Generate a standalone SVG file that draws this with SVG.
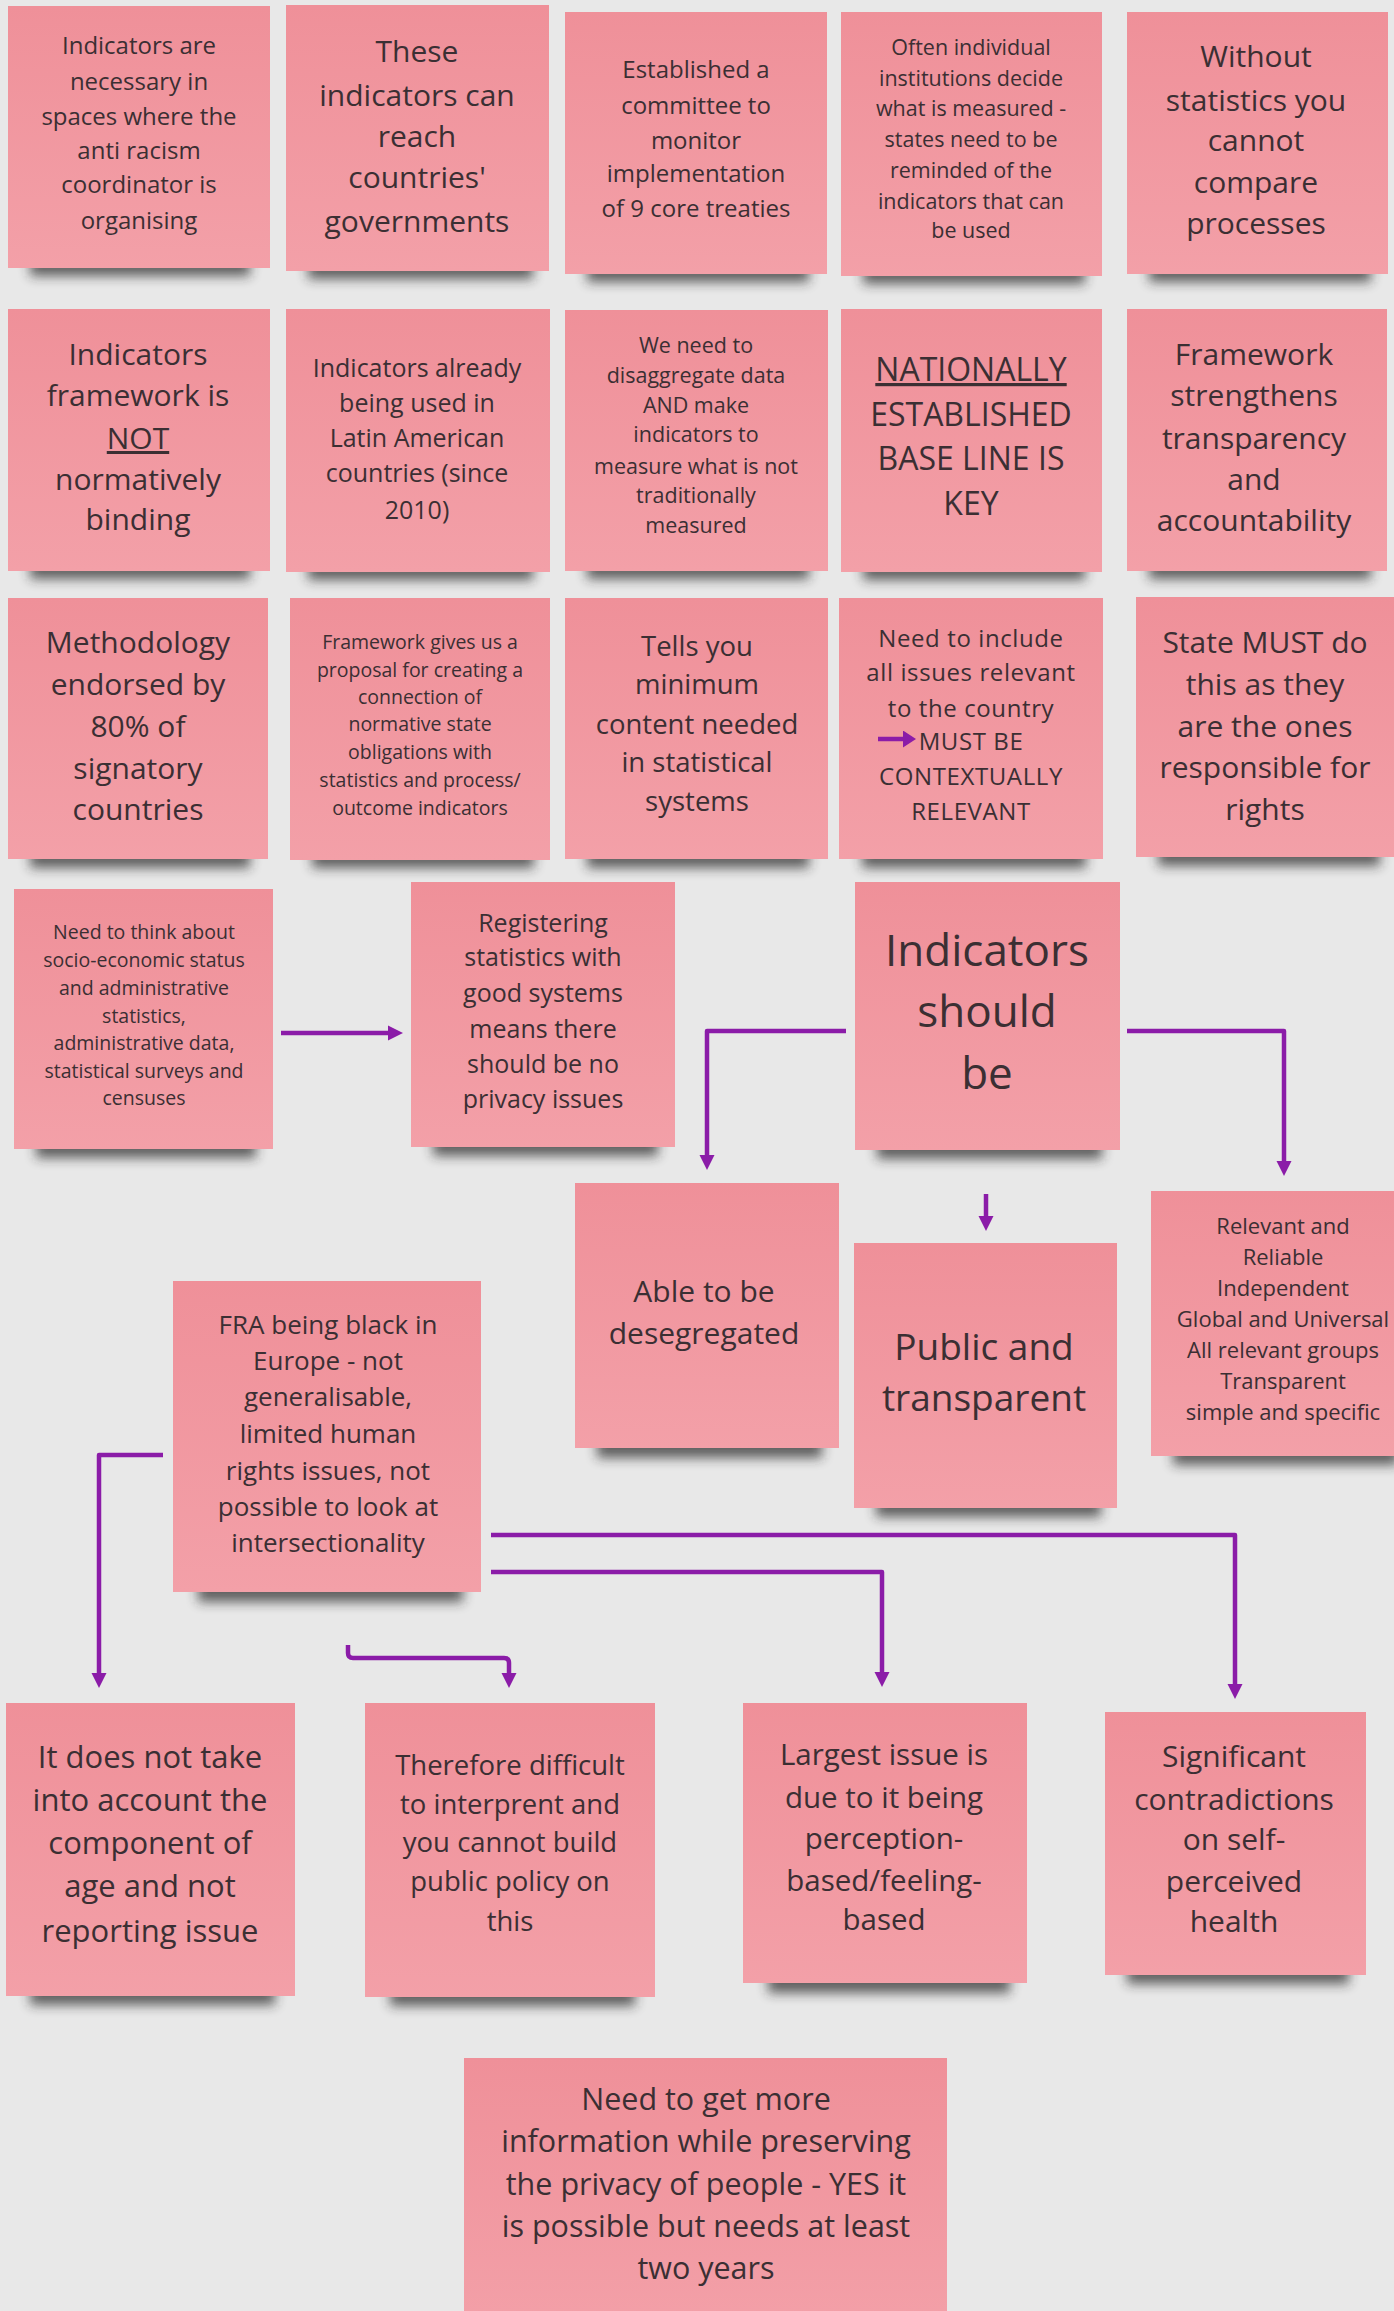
<svg xmlns="http://www.w3.org/2000/svg" width="1394" height="2311" viewBox="0 0 1394 2311">
<style>
.bg{fill:#e8e8e8}
.note{fill:url(#pink)}
.sh{fill:#262626;opacity:.7;filter:url(#blur)}
text{font-family:"Open Sans","Noto Sans","Liberation Sans",sans-serif;fill:#3b2f33;text-anchor:middle}
.conn{fill:none;stroke:#8b1ca8;stroke-width:4.5;stroke-linejoin:round}
.u{text-decoration:underline}
</style>
<defs>
<linearGradient id="pink" x1="0" y1="0" x2="0" y2="1">
<stop offset="0" stop-color="#ef9099"/>
<stop offset="1" stop-color="#f3a0a8"/>
</linearGradient>
<filter id="blur" x="-20%" y="-100%" width="140%" height="300%"><feGaussianBlur stdDeviation="6"/></filter>
<marker id="ah" viewBox="0 0 16 16" markerUnits="userSpaceOnUse" markerWidth="16" markerHeight="16" refX="6" refY="8" orient="auto"><path d="M0,0.5 L15,8 L0,15.5 z" fill="#8b1ca8"/></marker>
<marker id="ahs" viewBox="0 0 13 17" markerUnits="userSpaceOnUse" markerWidth="13" markerHeight="17" refX="2" refY="8.5" orient="auto"><path d="M0,0 L13,8.5 L0,17 z" fill="#8b1ca8"/></marker>
</defs>
<rect class="bg" x="0" y="0" width="1394" height="2311"/>

<g id="n1"><rect class="sh" x="30" y="248" width="220" height="28"/><rect class="note" x="8" y="6" width="262" height="262"/>
<text font-size="24"><tspan x="139" y="54">Indicators are</tspan><tspan x="139" y="90">necessary in</tspan><tspan x="139" y="125">spaces where the</tspan><tspan x="139" y="159">anti racism</tspan><tspan x="139" y="193">coordinator is</tspan><tspan x="139" y="229">organising</tspan></text></g>

<g id="n2"><rect class="sh" x="308" y="251" width="225" height="28"/><rect class="note" x="286" y="5" width="263" height="266"/>
<text font-size="30"><tspan x="417" y="62">These</tspan><tspan x="417" y="106">indicators can</tspan><tspan x="417" y="147">reach</tspan><tspan x="417" y="188">countries'</tspan><tspan x="417" y="232">governments</tspan></text></g>

<g id="n3"><rect class="sh" x="587" y="254" width="222" height="28"/><rect class="note" x="565" y="12" width="262" height="262"/>
<text font-size="24"><tspan x="696" y="78">Established a</tspan><tspan x="696" y="114">committee to</tspan><tspan x="696" y="149">monitor</tspan><tspan x="696" y="182">implementation</tspan><tspan x="696" y="217">of 9 core treaties</tspan></text></g>

<g id="n4"><rect class="sh" x="863" y="256" width="222" height="28"/><rect class="note" x="841" y="12" width="261" height="264"/>
<text font-size="21.5"><tspan x="971" y="55">Often  individual</tspan><tspan x="971" y="86">institutions decide</tspan><tspan x="971" y="116">what is measured -</tspan><tspan x="971" y="147">states need to be</tspan><tspan x="971" y="178">reminded of the</tspan><tspan x="971" y="209">indicators that can</tspan><tspan x="971" y="238">be used</tspan></text></g>

<g id="n5"><rect class="sh" x="1149" y="254" width="222" height="28"/><rect class="note" x="1127" y="12" width="261" height="262"/>
<text font-size="30"><tspan x="1256" y="67">Without</tspan><tspan x="1256" y="111">statistics you</tspan><tspan x="1256" y="151">cannot</tspan><tspan x="1256" y="193">compare</tspan><tspan x="1256" y="234">processes</tspan></text></g>

<g id="n6"><rect class="sh" x="30" y="551" width="220" height="28"/><rect class="note" x="8" y="309" width="262" height="262"/>
<text font-size="30"><tspan x="138" y="365">Indicators</tspan><tspan x="138" y="406">framework is</tspan><tspan x="138" y="449" class="u">NOT</tspan><tspan x="138" y="490">normatively</tspan><tspan x="138" y="530">binding</tspan></text></g>

<g id="n7"><rect class="sh" x="308" y="552" width="225" height="28"/><rect class="note" x="286" y="309" width="264" height="263"/>
<text font-size="25"><tspan x="417" y="377">Indicators already</tspan><tspan x="417" y="412">being used in</tspan><tspan x="417" y="447">Latin American</tspan><tspan x="417" y="482">countries (since</tspan><tspan x="417" y="519">2010)</tspan></text></g>

<g id="n8"><rect class="sh" x="587" y="551" width="222" height="28"/><rect class="note" x="565" y="310" width="263" height="261"/>
<text font-size="21.5"><tspan x="696" y="353">We need to</tspan><tspan x="696" y="383">disaggregate data</tspan><tspan x="696" y="413">AND make</tspan><tspan x="696" y="442">indicators to</tspan><tspan x="696" y="474">measure what is not</tspan><tspan x="696" y="503">traditionally</tspan><tspan x="696" y="533">measured</tspan></text></g>

<g id="n9"><rect class="sh" x="863" y="552" width="222" height="28"/><rect class="note" x="841" y="309" width="261" height="263"/>
<text font-size="32"><tspan x="971" y="381" class="u">NATIONALLY</tspan><tspan x="971" y="426">ESTABLISHED</tspan><tspan x="971" y="470">BASE LINE IS</tspan><tspan x="971" y="515">KEY</tspan></text></g>

<g id="n10"><rect class="sh" x="1149" y="551" width="222" height="28"/><rect class="note" x="1127" y="309" width="260" height="262"/>
<text font-size="30"><tspan x="1254" y="365">Framework</tspan><tspan x="1254" y="406">strengthens</tspan><tspan x="1254" y="449">transparency</tspan><tspan x="1254" y="490">and</tspan><tspan x="1254" y="531">accountability</tspan></text></g>

<g id="n11"><rect class="sh" x="30" y="840" width="220" height="28"/><rect class="note" x="8" y="598" width="260" height="261"/>
<text font-size="30"><tspan x="138" y="653">Methodology</tspan><tspan x="138" y="695">endorsed by</tspan><tspan x="138" y="737">80% of</tspan><tspan x="138" y="779">signatory</tspan><tspan x="138" y="820">countries</tspan></text></g>

<g id="n12"><rect class="sh" x="312" y="840" width="222" height="28"/><rect class="note" x="290" y="598" width="260" height="262"/>
<text font-size="19.5"><tspan x="420" y="649">Framework gives us a</tspan><tspan x="420" y="677">proposal for creating a</tspan><tspan x="420" y="704">connection of</tspan><tspan x="420" y="731">normative state</tspan><tspan x="420" y="759">obligations with</tspan><tspan x="420" y="787">statistics and process/</tspan><tspan x="420" y="815">outcome indicators</tspan></text></g>

<g id="n13"><rect class="sh" x="587" y="840" width="222" height="28"/><rect class="note" x="565" y="598" width="263" height="261"/>
<text font-size="27.5"><tspan x="697" y="656">Tells you</tspan><tspan x="697" y="694">minimum</tspan><tspan x="697" y="734">content needed</tspan><tspan x="697" y="772">in statistical</tspan><tspan x="697" y="811">systems</tspan></text></g>

<g id="n14"><rect class="sh" x="862" y="840" width="224" height="28"/><rect class="note" x="839" y="598" width="264" height="261"/>
<text font-size="24" letter-spacing="0.6"><tspan x="971" y="647">Need to include</tspan><tspan x="971" y="681">all issues relevant</tspan><tspan x="971" y="717">to the country</tspan><tspan x="971" y="750">MUST BE</tspan><tspan x="971" y="785">CONTEXTUALLY</tspan><tspan x="971" y="820">RELEVANT</tspan></text>
<path class="conn" d="M878 739 H905" stroke-width="4" marker-end="url(#ahs)"/></g>

<g id="n15"><rect class="sh" x="1158" y="838" width="222" height="28"/><rect class="note" x="1136" y="597" width="258" height="260"/>
<text font-size="30"><tspan x="1265" y="653">State MUST do</tspan><tspan x="1265" y="695">this as they</tspan><tspan x="1265" y="737">are the ones</tspan><tspan x="1265" y="778">responsible for</tspan><tspan x="1265" y="820">rights</tspan></text></g>

<g id="n16"><rect class="sh" x="36" y="1130" width="220" height="28"/><rect class="note" x="14" y="889" width="259" height="260"/>
<text font-size="19.5"><tspan x="144" y="939">Need to think about</tspan><tspan x="144" y="967">socio-economic status</tspan><tspan x="144" y="995">and administrative</tspan><tspan x="144" y="1023">statistics,</tspan><tspan x="144" y="1050">administrative data,</tspan><tspan x="144" y="1078">statistical surveys and</tspan><tspan x="144" y="1105">censuses</tspan></text></g>

<g id="n17"><rect class="sh" x="433" y="1128" width="225" height="28"/><rect class="note" x="411" y="882" width="264" height="265"/>
<text font-size="25"><tspan x="543" y="932">Registering</tspan><tspan x="543" y="966">statistics with</tspan><tspan x="543" y="1002">good systems</tspan><tspan x="543" y="1038">means there</tspan><tspan x="543" y="1073">should be no</tspan><tspan x="543" y="1108">privacy issues</tspan></text></g>

<g id="n18"><rect class="sh" x="877" y="1131" width="225" height="28"/><rect class="note" x="855" y="882" width="265" height="268"/>
<text font-size="44"><tspan x="987" y="966">Indicators</tspan><tspan x="987" y="1027">should</tspan><tspan x="987" y="1089">be</tspan></text></g>

<g id="n19"><rect class="sh" x="597" y="1430" width="225" height="28"/><rect class="note" x="575" y="1183" width="264" height="265"/>
<text font-size="30"><tspan x="704" y="1302">Able to be</tspan><tspan x="704" y="1344">desegregated</tspan></text></g>

<g id="n20"><rect class="sh" x="876" y="1489" width="225" height="28"/><rect class="note" x="854" y="1243" width="263" height="265"/>
<text font-size="37"><tspan x="984" y="1360">Public and</tspan><tspan x="984" y="1411">transparent</tspan></text></g>

<g id="n21"><rect class="sh" x="1173" y="1437" width="225" height="28"/><rect class="note" x="1151" y="1191" width="264" height="265"/>
<text font-size="22"><tspan x="1283" y="1234">Relevant and</tspan><tspan x="1283" y="1265">Reliable</tspan><tspan x="1283" y="1296">Independent</tspan><tspan x="1283" y="1327">Global and Universal</tspan><tspan x="1283" y="1358">All relevant groups</tspan><tspan x="1283" y="1389">Transparent</tspan><tspan x="1283" y="1420">simple and specific</tspan></text></g>

<g id="n22"><rect class="sh" x="198" y="1572" width="265" height="30"/><rect class="note" x="173" y="1281" width="308" height="311"/>
<text font-size="26"><tspan x="328" y="1334">FRA being black in</tspan><tspan x="328" y="1370">Europe - not</tspan><tspan x="328" y="1406">generalisable,</tspan><tspan x="328" y="1443">limited human</tspan><tspan x="328" y="1480">rights issues, not</tspan><tspan x="328" y="1516">possible to look at</tspan><tspan x="328" y="1552">intersectionality</tspan></text></g>

<g id="n23"><rect class="sh" x="30" y="1975" width="245" height="30"/><rect class="note" x="6" y="1703" width="289" height="293"/>
<text font-size="31"><tspan x="150" y="1768">It does not take</tspan><tspan x="150" y="1811">into account the</tspan><tspan x="150" y="1854">component of</tspan><tspan x="150" y="1897">age and not</tspan><tspan x="150" y="1942">reporting issue</tspan></text></g>

<g id="n24"><rect class="sh" x="390" y="1976" width="245" height="30"/><rect class="note" x="365" y="1703" width="290" height="294"/>
<text font-size="27.5"><tspan x="510" y="1775">Therefore difficult</tspan><tspan x="510" y="1814">to interprent and</tspan><tspan x="510" y="1852">you cannot build</tspan><tspan x="510" y="1891">public policy on</tspan><tspan x="510" y="1931">this</tspan></text></g>

<g id="n25"><rect class="sh" x="768" y="1963" width="242" height="30"/><rect class="note" x="743" y="1703" width="284" height="280"/>
<text font-size="29.5"><tspan x="884" y="1765">Largest issue is</tspan><tspan x="884" y="1808">due to it being</tspan><tspan x="884" y="1849">perception-</tspan><tspan x="884" y="1891">based/feeling-</tspan><tspan x="884" y="1930">based</tspan></text></g>

<g id="n26"><rect class="sh" x="1127" y="1956" width="222" height="28"/><rect class="note" x="1105" y="1712" width="261" height="263"/>
<text font-size="30"><tspan x="1234" y="1767">Significant</tspan><tspan x="1234" y="1810">contradictions</tspan><tspan x="1234" y="1850">on self-</tspan><tspan x="1234" y="1892">perceived</tspan><tspan x="1234" y="1932">health</tspan></text></g>

<g id="n27"><rect class="note" x="464" y="2058" width="483" height="270"/>
<text font-size="30.5"><tspan x="706" y="2110">Need to get more</tspan><tspan x="706" y="2152">information while preserving</tspan><tspan x="706" y="2195">the privacy of people - YES it</tspan><tspan x="706" y="2237">is possible but needs at least</tspan><tspan x="706" y="2279">two years</tspan></text></g>

<g id="connectors">
<path class="conn" d="M281 1033 H394" marker-end="url(#ah)"/>
<path class="conn" d="M846 1031 H707 V1161" marker-end="url(#ah)"/>
<path class="conn" d="M1127 1031 H1284 V1167" marker-end="url(#ah)"/>
<path class="conn" d="M986 1194 V1222" marker-end="url(#ah)"/>
<path class="conn" d="M163 1455 H99 V1679" marker-end="url(#ah)"/>
<path class="conn" d="M491 1535 H1235 V1690" marker-end="url(#ah)"/>
<path class="conn" d="M491 1572 H882 V1678" marker-end="url(#ah)"/>
<path class="conn" d="M348 1645 V1653 Q348 1658 353 1658 H504 Q509 1658 509 1663 V1679" marker-end="url(#ah)"/>
</g>
</svg>
